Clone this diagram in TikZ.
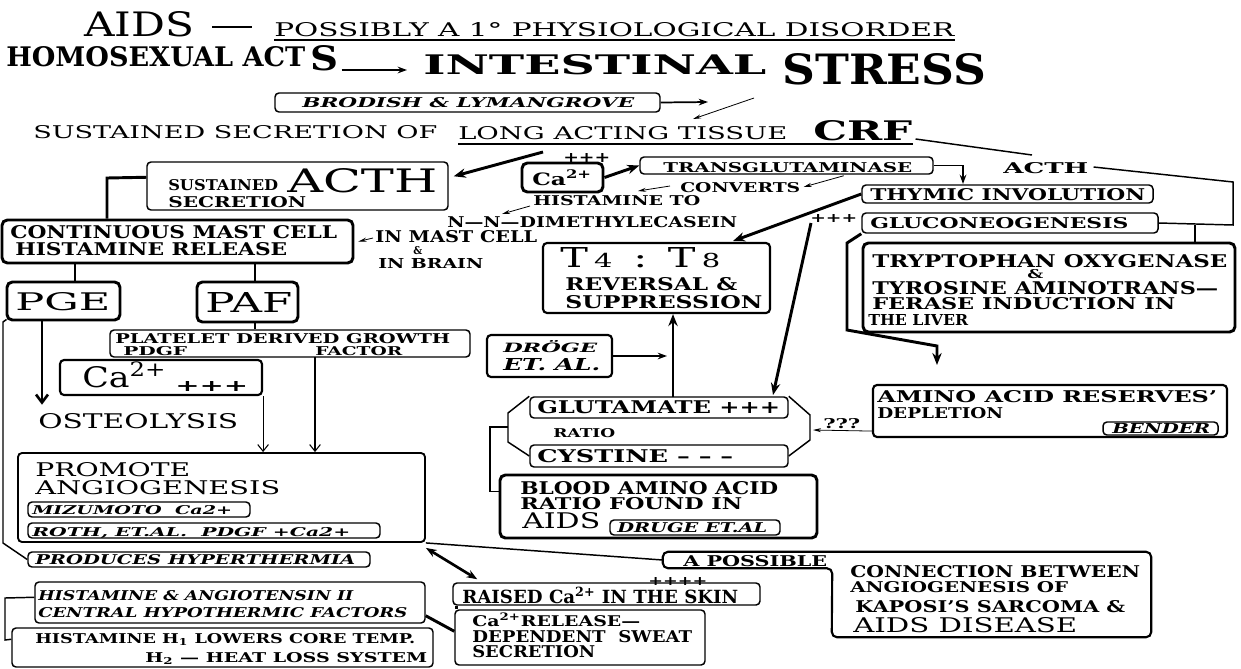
\documentclass[tikz,border=0pt]{standalone}
\usepackage{fontspec}
\setmainfont{DejaVu Serif}
\usepackage{graphicx}
\usetikzlibrary{arrows.meta,fit,calc}
\newdimen\pxu \pxu=0.75pt
\newcommand\tR[3]{\resizebox{#1\pxu}{#2\pxu}{#3}}
\newcommand\tB[3]{\resizebox{#1\pxu}{#2\pxu}{\bfseries #3}}
\newcommand\tI[3]{\resizebox{#1\pxu}{#2\pxu}{\bfseries\itshape #3}}
\begin{document}
\begin{tikzpicture}[x=0.75pt,y=-0.75pt,
  bx/.style={draw, rounded corners=3pt, line width=1.1pt, inner sep=0pt},
  tbx/.style={draw, rounded corners=4pt, line width=2.2pt, inner sep=0pt},
  tx/.style={inner sep=0pt, anchor=base west},
  ln/.style={line width=1.1pt},
  tln/.style={line width=2.2pt},
  arr/.style={line width=2.2pt, -{Stealth[length=9pt,width=7pt]}},
  marr/.style={line width=1.3pt, -{Stealth[length=7pt,width=5pt]}},
  darr/.style={line width=2pt, {Stealth[length=8pt,width=6pt]}-{Stealth[length=8pt,width=6pt]}},
  tarr/.style={line width=0.6pt, -{Stealth[length=6pt,width=3pt]}},
  varr/.style={line width=0.8pt, -{Straight Barb[length=5pt,width=8pt]}},
  tvarr/.style={line width=2pt, -{Straight Barb[length=6pt,width=9pt]}},
]
\fill[white] (0,0) rectangle (1241,668);
\useasboundingbox (0,0) rectangle (1241,668);

% ---------- title rows
\node[tx] (aids) at (84,36) {\tR{110}{25}{AIDS}};
\node[tx] (dash) at (212,28) {\rule{40\pxu}{2.5\pxu}};
\node[tx] (sub) at (274,36) {\tR{680}{14}{POSSIBLY A 1° PHYSIOLOGICAL DISORDER}};
\draw[ln] ($(sub.base west)+(0,4)$) -- ($(sub.base east)+(0,4)$);

\node[tx] (homo) at (6,66) {\tB{299}{20}{HOMOSEXUAL ACT}};
\node[tx] (bigS) at (310,70) {\tB{28}{25}{S}};
\node[tx] (intes) at (423,74) {\tB{343}{20}{INTESTINAL}};
\node[tx] (stress) at (782,84) {\tB{204}{31}{STRESS}};
\draw[marr] ($(bigS.base east)+(3,0)$) -- ($(intes.base west)+(-16,-4)$);

\node[bx, fit={(275,93)(660,112)}] (brod) {};
\node[tx] (brodt) at (302,107) {\tI{332}{10}{BRODISH \& LYMANGROVE}};
\coordinate (brodtip) at (708,102);
\draw[marr] (brod.east) -- (brodtip);
\coordinate (thin0) at (754,98);
\coordinate (thin1) at (693,119);
\draw[tarr] (thin0) -- (thin1);

% ---------- CRF row
\node[tx] (sus) at (33,138) {\tR{404}{13}{SUSTAINED SECRETION OF}};
\node[tx] (long) at (458,139) {\tR{329}{13}{LONG ACTING TISSUE}};
\node[tx] (crf) at (813,140) {\tB{99}{20}{CRF}};
\draw[ln] ($(long.base west)+(0,5)$) -- ($(crf.base east)+(0,4)$);
\coordinate (c1) at (1032,155);
\draw[ln] ($(crf.base east)+(3,-1)$) -- (c1);
\node[tx] (acth) at (1003,173) {\tB{85}{11}{ACTH}};

% ---------- sustained ACTH
\node[bx, fit={(147,162)(448,210)}] (sacth) {};
\node[tx] (sacth1) at (168,190) {\tB{110}{11}{SUSTAINED}};
\node[tx] (sacth2) at (287,192) {\tR{150}{24}{ACTH}};
\node[tx] (sacth3) at (168,207) {\tB{138}{11}{SECRETION}};
\coordinate (crfa) at (543,152);
\draw[arr] (crfa) -- ($(sacth.north east)+(5,15)$);

% ---------- Ca / transglutaminase
\node[tbx, fit={(522,163)(603,192)}] (ca) {};
\node[tx] (cat) at (532,185) {\tB{60}{15}{Ca\textsuperscript{2+}}};
\node[tx] (capl) at (563,162) {\tB{47}{9}{+++}};
\node[bx, fit={(640,157)(933,174)}] (trans) {};
\node[tx] (transt) at (663,172) {\tB{249}{10}{TRANSGLUTAMINASE}};
\draw[arr] (ca.east) -- (trans.west);
\coordinate (tr1) at (963,165.5);
\draw[marr] (trans.east) -- (tr1) -- (963,184);
\node[tx] (conv) at (680,192) {\tB{120}{10}{CONVERTS}};
\draw[tarr] ($(trans.south east)+(-90,1)$) -- ($(conv.base east)+(3,-5)$);
\coordinate (cvtip) at (638,191);
\draw[tarr] ($(conv.base west)+(-10,-6)$) -- (cvtip);
\node[tx] (histo) at (533,205) {\tB{167}{10}{HISTAMINE TO}};
\coordinate (hstip) at (502,214);
\draw[tarr] ($(histo.base west)+(-3,1)$) -- (hstip);
\node[tx] (nn) at (447,227) {\tB{290}{11}{N—N—DIMETHYLECASEIN}};

% ---------- right column
\node[bx, fit={(862,185)(1153,203)}] (thy) {};
\node[tx] (thyt) at (870,200) {\tB{275}{12}{THYMIC INVOLUTION}};
\node[bx, fit={(862,213)(1158,233)}] (glu) {};
\node[tx] (glut0) at (870,228) {\tB{258}{11}{GLUCONEOGENESIS}};
\node[tx] (glupl) at (810,222) {\tB{47}{8}{+++}};
\node[tbx, fit={(863,243)(1235,332)}] (try) {};
\node[tx] (try1) at (872,267) {\tB{355}{13}{TRYPTOPHAN OXYGENASE}};
\node[tx] (try2) at (1027,278) {\tB{16}{9}{\&}};
\node[tx] (try3) at (872,294) {\tB{346}{13}{TYROSINE AMINOTRANS—}};
\node[tx] (try4) at (872,309) {\tB{303}{12}{FERASE INDUCTION IN}};
\node[tx] (try5) at (868,325) {\tB{100}{11}{THE LIVER}};
\coordinate (c2) at (1233,182);
\coordinate (c3) at (1233,225);
\coordinate (c4) at (1195,225);
\draw[ln] ($(acth.base east)+(5,-6)$) -- (c2) -- (c3) -- (glu.east);
\draw[ln] (c4) -- (c4 |- try.north);
\coordinate (tr2) at (847,243);
\coordinate (tr3) at (847,330);
\coordinate (tr4) at (937,346);
\draw[arr] (glu.south west) -- (tr2) -- (tr3) -- (tr4) -- (937,365);

\node[bx, line width=1.6pt, fit={(873,385)(1227,437)}] (amino) {};
\node[tx] (amino1) at (877,402) {\tB{340}{12}{AMINO ACID RESERVES'}};
\node[tx] (amino2) at (877,418) {\tB{126}{11}{DEPLETION}};
\node[bx, fit={(1103,422)(1218,435)}] (bender) {};
\node[tx] (bendert) at (1112,433) {\tI{98}{10}{BENDER}};

% ---------- T4:T8
\node[bx, line width=1.6pt, fit={(543,243)(770,313)}] (t4) {};
\node[tx] (t4a) at (560,267) {\tR{160}{20}{T\kern.15em{\scriptsize 4}\kern.5em:\kern.5em T\kern.15em{\scriptsize 8}}};
\node[tx] (t4b) at (565,290) {\tB{172}{13}{REVERSAL \&}};
\node[tx] (t4c) at (565,308) {\tB{197}{13}{SUPPRESSION}};
\coordinate (thytip) at (733,241);
\draw[arr] (thy.west) -- (thytip);
\coordinate (g0) at (811,223);
\draw[arr] (g0) -- (773,395);

\node[bx, line width=1.6pt, fit={(487,335)(612,377)}] (drog) {};
\node[tx] (drog1) at (503,352) {\tI{94}{12}{DRÖGE}};
\node[tx] (drog2) at (503,370) {\tI{97}{12}{ET. AL.}};
\coordinate (drtip) at (667,356);
\draw[marr] (drog.east) -- (drtip);

% ---------- glutamate / cystine
\node[bx, fit={(530,397)(788,418)}] (glutb) {};
\node[tx] (glutt) at (537,413) {\tB{243}{13}{GLUTAMATE +++}};
\node[bx, fit={(530,445)(788,467)}] (cys) {};
\node[tx] (cyst) at (537,462) {\tB{196}{13}{CYSTINE – – –}};
\node[tx] (ratio) at (553,437) {\tB{62}{9}{RATIO}};
\draw[ln] (glutb.north west) -- (508,413) -- (508,442) -- (cys.west);
\draw[ln] (glutb.north east) -- (810,415) -- (810,440) -- (cys.east);
\coordinate (gq) at (673,397);
\draw[arr] (gq) -- (gq |- t4.south);
\node[tx] (qqq) at (823,428) {\tB{37}{10}{???}};
\coordinate (qtip) at (813,430);
\draw[tarr] ($(amino.south west)+(0,-7)$) -- (qtip);

\node[tbx, fit={(500,475)(817,538)}] (blood) {};
\node[tx] (blood1) at (520,494) {\tB{258}{13}{BLOOD AMINO ACID}};
\node[tx] (blood2) at (520,509) {\tB{222}{12}{RATIO FOUND IN}};
\node[tx] (blood3) at (522,528) {\tR{78}{16}{AIDS}};
\node[bx, fit={(610,520)(780,535)}] (druge) {};
\node[tx] (druget) at (617,532) {\tI{150}{10}{DRUGE ET.AL}};
\coordinate (hl3) at (508,427);
\coordinate (hl4) at (490,427);
\draw[ln] (hl3) -- (hl4) |- ($(blood.north west)+(0,18)$);

% ---------- A possible / connection
\node[inner sep=0pt, fit={(663,552)(832,568)}] (poss) {};
\node[inner sep=0pt, fit={(832,552)(1151,637)}] (conn) {};
\draw[line width=1.6pt, rounded corners=4pt] (poss.south west) -- (poss.north west) -- (conn.north east) -- (conn.south east) -- (conn.south west) -- (poss.south east) -- cycle;
\node[tx] (posst) at (683,566) {\tB{144}{11}{A POSSIBLE}};
\node[tx] (conn1) at (850,577) {\tB{290}{12}{CONNECTION BETWEEN}};
\node[tx] (conn2) at (850,592) {\tB{218}{11}{ANGIOGENESIS OF}};
\node[tx] (conn3) at (855,612) {\tB{270}{12}{KAPOSI'S SARCOMA \&}};
\node[tx] (conn4) at (853,632) {\tR{224}{15}{AIDS DISEASE}};

% ---------- left column
\node[tbx, fit={(2,220)(353,263)}] (cont) {};
\node[tx] (cont1) at (10,238) {\tB{327}{13}{CONTINUOUS MAST CELL}};
\node[tx] (cont2) at (15,255) {\tB{272}{13}{HISTAMINE RELEASE}};
\coordinate (sl) at (107,178);
\draw[tln] ($(sacth.north west)+(0,16)$) -- (sl) -- (sl |- cont.north);
\node[tx] (inmast) at (375,242) {\tB{162}{12}{IN MAST CELL}};
\node[tx] (amp) at (413,254) {\tB{9}{8}{\&}};
\node[tx] (inbrain) at (378,268) {\tB{105}{10}{IN BRAIN}};
\draw[tarr] ($(inmast.base west)+(-2,-4)$) -- ($(cont.east)+(4,0)$);

\node[tbx, fit={(7,282)(120,320)}] (pge) {};
\node[tx] (pget) at (15,310) {\tR{95}{18}{PGE}};
\node[tbx, fit={(197,282)(298,322)}] (paf) {};
\node[tx] (paft) at (205,312) {\tR{87}{20}{PAF}};
\coordinate (p1) at (75,282);
\draw[tln] (p1) -- (p1 |- cont.south);
\coordinate (p2) at (255,282);
\draw[tln] (p2) -- (p2 |- cont.south);

\node[bx, fit={(110,330)(470,357)}] (plat) {};
\node[tx] (plat1) at (115,343) {\tB{335}{10}{PLATELET DERIVED GROWTH}};
\node[tx] (plat2) at (123,355) {\tB{64}{9}{PDGF}};
\node[tx] (plat3) at (315,355) {\tB{87}{9}{FACTOR}};
\coordinate (p3) at (255,322);
\draw[tln] (p3) -- (p3 |- plat.north);

\node[bx, line width=1.6pt, fit={(60,360)(262,395)}] (ca2) {};
\node[tx] (ca2t) at (82,387) {\tR{85}{25}{Ca\textsuperscript{2+}}};
\node[tx] (ca2p) at (175,391) {\tB{73}{10}{+++}};

\node[tx] (osteo) at (38,428) {\tR{200}{15}{OSTEOLYSIS}};
\coordinate (p4) at (42,320);
\draw[tvarr] (p4) -- ($(osteo.north west)+(4,-8)$);

\node[bx, line width=1.4pt, fit={(18,453)(425,542)}] (prom) {};
\node[tx] (prom1) at (35,476) {\tR{155}{14}{PROMOTE}};
\node[tx] (prom2) at (35,494) {\tR{245}{14}{ANGIOGENESIS}};
\node[bx, fit={(28,502)(250,517)}] (mizu) {};
\node[tx] (mizut) at (32,514) {\tI{200}{9}{MIZUMOTO\ \ Ca2+}};
\node[bx, fit={(28,523)(380,538)}] (roth) {};
\node[tx] (rotht) at (32,536) {\tI{318}{9}{ROTH, ET.AL.\ \ PDGF +Ca2+}};
\draw[varr] (ca2.south east) -- (ca2.south east |- prom.north);
\coordinate (p5) at (315,357);
\draw[varr] (p5) -- (p5 |- prom.north);

\node[bx, fit={(28,552)(370,567)}] (hyper) {};
\node[tx] (hypert) at (35,564) {\tI{320}{10}{PRODUCES HYPERTHERMIA}};
\coordinate (p6) at (3,322);
\coordinate (p7) at (3,543);
\draw[ln] ($(pge.south west)+(1,-2)$) -- (p6) -- (p7) -- (hyper.west);

\draw[ln] (prom.south east) -- (poss.west);

\node[bx, fit={(35,582)(425,623)}] (hist) {};
\node[tx] (hist1) at (38,600) {\tI{315}{10}{HISTAMINE \& ANGIOTENSIN II}};
\node[tx] (hist2) at (38,617) {\tI{369}{10}{CENTRAL HYPOTHERMIC FACTORS}};
\node[bx, fit={(12,628)(433,667)}] (h1) {};
\node[tx] (h1a) at (35,643) {\tB{380}{10}{HISTAMINE H\textsubscript{1} LOWERS CORE TEMP.}};
\node[tx] (h1b) at (145,662) {\tB{282}{10}{H\textsubscript{2} — HEAT LOSS SYSTEM}};
\coordinate (hb1) at (5,598);
\coordinate (hb2) at (5,640);
\draw[ln] ($(hist.north west)+(0,16)$) -- (hb1) -- (hb2) -- ($(h1.north west)+(0,12)$);

% ---------- skin boxes
\node[bx, fit={(453,583)(760,605)}] (rais) {};
\node[tx] (raist) at (462,603) {\tB{276}{16}{RAISED Ca\textsuperscript{2+} IN THE SKIN}};
\node[tx] (raisp) at (648,585) {\tB{59}{8}{++++}};
\node[bx, fit={(455,610)(705,665)}] (carel) {};
\node[tx] (carel1) at (472,626) {\tB{168}{13}{Ca\textsuperscript{2+}RELEASE—}};
\node[tx] (carel2) at (472,642) {\tB{220}{12}{DEPENDENT\ \ SWEAT}};
\node[tx] (carel3) at (472,657) {\tB{123}{12}{SECRETION}};
\draw[tln] ($(rais.south west)+(4,0)$) -- ($(carel.north west)+(2,0)$);
\draw[tln] ($(hist.south east)+(0,-8)$) -- ($(carel.north west)+(0,22)$);
\draw[darr] ($(prom.south east)+(0,5)$) -- ($(rais.north west)+(25,-3)$);
\end{tikzpicture}
\end{document}
